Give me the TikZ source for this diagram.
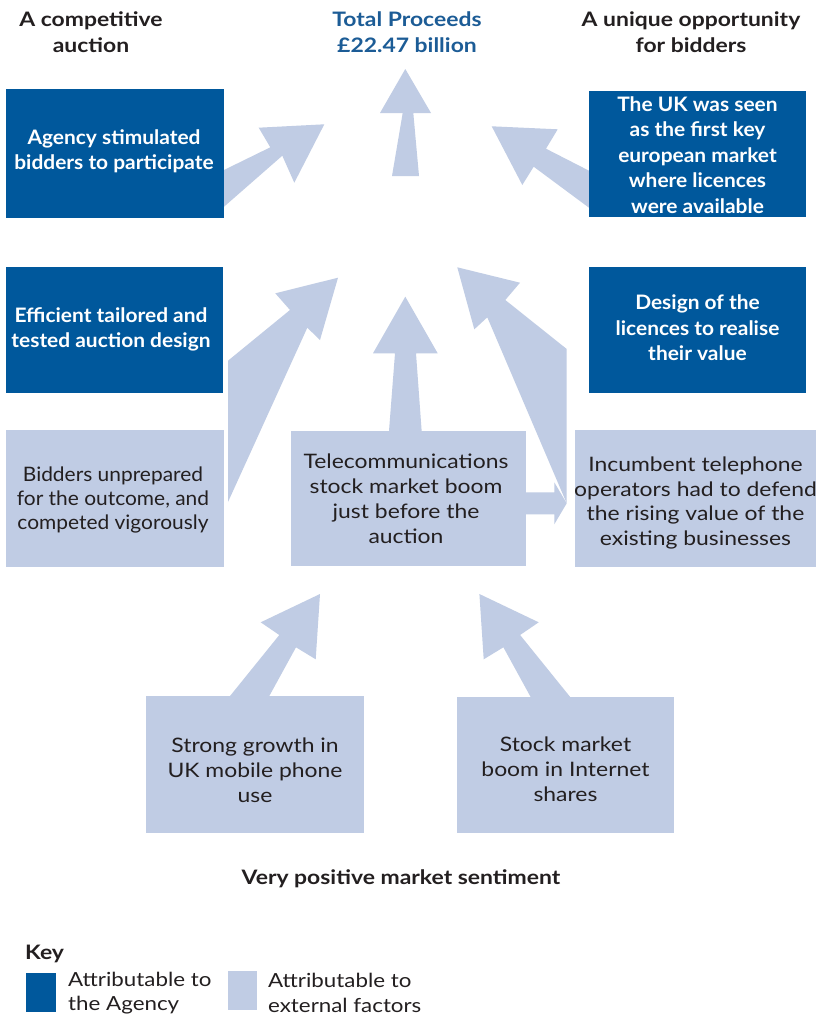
\documentclass[tikz,border=0pt]{standalone}
\usepackage{fontspec}
\setmainfont{Lato}[FakeStretch=1.05]
\newfontfamily\widefont{Lato}[FakeStretch=1.15]
\definecolor{agency}{RGB}{0,88,156}
\definecolor{external}{RGB}{192,204,228}
\definecolor{titleblue}{RGB}{28,92,150}
\definecolor{ink}{RGB}{35,31,32}
\begin{document}
\begin{tikzpicture}[x=1bp,y=-1bp,
  agencybox/.style={rectangle, fill=agency, draw=none, inner sep=0},
  externalbox/.style={rectangle, fill=external, draw=none, inner sep=0},
  boxtext/.style={inner sep=0, align=center, text=white,
    font=\fontsize{20}{25.5}\selectfont\bfseries},
  bodytext/.style={inner sep=0, align=center, text=ink,
    font=\widefont\fontsize{20}{25}\selectfont},
  narrowtext/.style={inner sep=0, align=center, text=ink,
    font=\fontsize{20}{24}\selectfont},
  headtext/.style={inner sep=0, align=center, text=ink,
    font=\widefont\fontsize{20}{26}\selectfont\bfseries},
  keytext/.style={inner sep=0, align=left, anchor=west, text=ink,
    font=\widefont\fontsize{19.5}{24.5}\selectfont},
  flow/.style={fill=external, draw=none}
]
\useasboundingbox (0,0) rectangle (816,1021);
\fill[white] (0,0) rectangle (816,1021);

% ---- headings ----
\node[headtext] (compet) at (91,32) {A competitive\\auction};
\node[headtext, text=titleblue] (total) at (407,32) {Total Proceeds\\£22.47 billion};
\node[headtext] (unique) at (691,32) {A unique opportunity\\for bidders};

% ---- block arrows (drawn beneath the boxes) ----
% into the total from below
\fill[flow] (392,176) -- (419,176) -- (413.3,113) -- (431,113) -- (405.3,69)
  -- (380,113) -- (402.7,113) -- cycle;
% from the agency box
\fill[flow] (215,174.4) -- (270.3,147.3) -- (258.7,127.7) -- (324.3,124.3)
  -- (294.3,182.7) -- (282.3,155.7) -- (215,214.6) -- cycle;
% from the first-market box
\fill[flow] (598,175.3) -- (546,148.7) -- (557.7,129.3) -- (491.7,126.3)
  -- (522.3,185) -- (533.7,166.7) -- (598,214.4) -- cycle;
% wedge rising from the unprepared bidders
\fill[flow] (228,502) -- (307.3,327.7) -- (320,340) -- (338,277.7)
  -- (275.3,293.3) -- (290,310) -- (228,360.7) -- cycle;
% up from the telecoms boom
\fill[flow] (388.3,440) -- (422.3,440) -- (416,353.3) -- (437.7,353.3)
  -- (405.3,296.7) -- (373,353.3) -- (395,353.3) -- cycle;
% rising from the incumbents
\fill[flow] (566.7,503.3) -- (487.3,317.3) -- (474.3,329.3) -- (457.3,267.3)
  -- (520,282.7) -- (505.3,300) -- (566.7,349) -- cycle;
% telecoms boom across to the incumbents
\fill[flow] (520,492.3) -- (554.3,492.3) -- (554.3,482.3) -- (566.7,503.3)
  -- (554.3,524.3) -- (554.3,514.3) -- (520,514.3) -- cycle;
% from mobile growth
\fill[flow] (226.8,700) -- (279.3,635) -- (260.7,622.3) -- (320,594)
  -- (315.7,659.3) -- (296,647.3) -- (267.1,700) -- cycle;
% from internet shares
\fill[flow] (572.6,700) -- (520.1,635) -- (538.7,622.3) -- (479.4,594)
  -- (483.7,659.3) -- (503.4,647.3) -- (532.3,700) -- cycle;

% ---- agency boxes ----
\node[agencybox, minimum width=218bp, minimum height=129bp] (stimulated) at (115,153.5) {};
\node[boxtext] (stimulatedtext) at (114,151.5) {Agency stimulated\\bidders to participate};
\node[agencybox, minimum width=217bp, minimum height=126bp] (firstmarket) at (697.5,154) {};
\node[boxtext] (firstmarkettext) at (697.5,155) {The UK was seen\\as the first key\\european market\\where licences\\were available};
\node[agencybox, minimum width=217bp, minimum height=126bp] (design) at (114.5,330) {};
\node[boxtext] (designtext) at (111,329.5) {Efficient tailored and\\tested auction design};
\node[agencybox, minimum width=217bp, minimum height=126bp] (licences) at (697.5,330) {};
\node[boxtext] (licencestext) at (697.5,328) {Design of the\\licences to realise\\their value};

% ---- external factor boxes ----
\node[externalbox, minimum width=218bp, minimum height=137bp] (unprepared) at (115,498.5) {};
\node[narrowtext] (unpreparedtext) at (113,500) {Bidders unprepared\\for the outcome, and\\competed vigorously};
\node[externalbox, minimum width=235bp, minimum height=135bp] (boom) at (408.5,498.5) {};
\node[bodytext] (boomtext) at (406,499) {Telecommunications\\stock market boom\\just before the\\auction};
\node[externalbox, minimum width=241bp, minimum height=137bp] (incumbent) at (695.5,498.5) {};
\node[bodytext] (incumbenttext) at (695.5,503) {Incumbent telephone\\operators had to defend\\the rising value of the\\existing businesses};
\node[externalbox, minimum width=218bp, minimum height=137bp] (mobile) at (255,764.5) {};
\node[bodytext] (mobiletext) at (255,770) {Strong growth in\\UK mobile phone\\use};
\node[externalbox, minimum width=217bp, minimum height=136bp] (internet) at (565.5,765) {};
\node[bodytext] (internettext) at (565.5,769.5) {Stock market\\boom in Internet\\shares};

% ---- footer ----
\node[headtext] (sentiment) at (401,879) {Very positive market sentiment};

% ---- key ----
\node[headtext, anchor=west] (key) at (25,954) {Key};
\node[agencybox, minimum width=30bp, minimum height=39bp] (keyagency) at (40.5,992.5) {};
\node[keytext] (keyagencytext) at (68,993) {Attributable to\\the Agency};
\node[externalbox, minimum width=29bp, minimum height=39bp] (keyexternal) at (242.5,990) {};
\node[keytext] (keyexternaltext) at (268,993) {Attributable to\\external factors};
\end{tikzpicture}
\end{document}
